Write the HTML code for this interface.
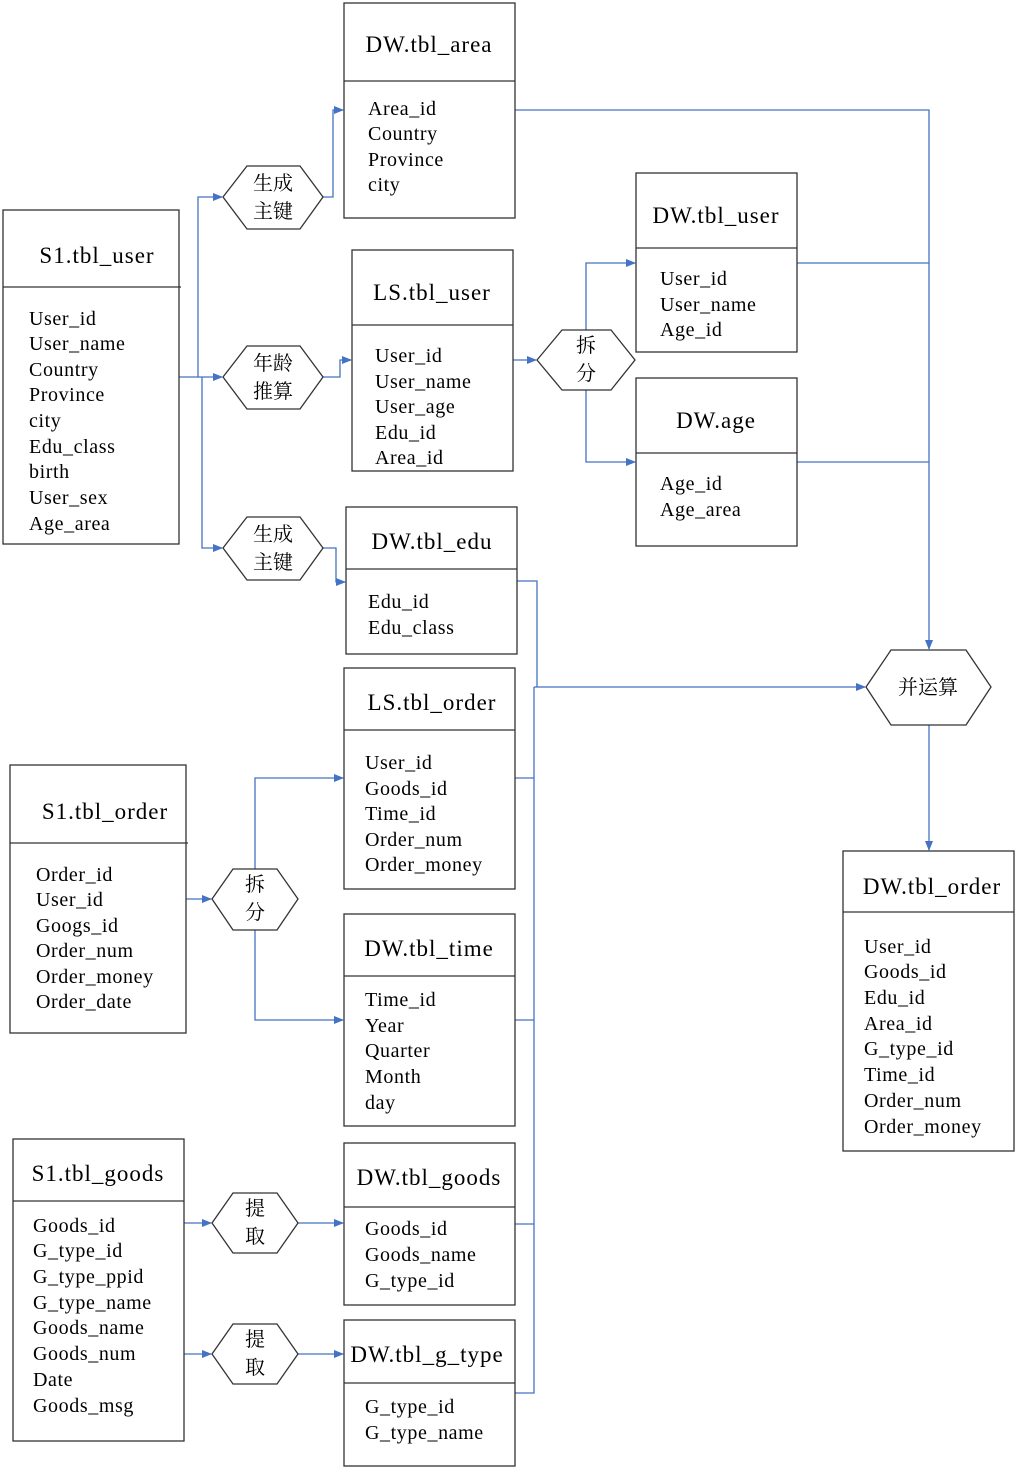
<!DOCTYPE html>
<html><head><meta charset="utf-8"><style>
html,body{margin:0;padding:0;background:#fff;}
svg{display:block;}
text{font-family:"Liberation Serif","Noto Serif CJK SC",serif;fill:#000;}
.t{font-size:23px;letter-spacing:1px;}
.f{font-size:20px;letter-spacing:0.6px;}
.c{font-size:20px;fill:#333;}
.b{fill:#fff;stroke:#333;stroke-width:1.3;}
.l{fill:none;stroke:#4472c4;stroke-width:1.3;}
.a{fill:#4472c4;}
</style></head><body>
<svg width="1018" height="1470" viewBox="0 0 1018 1470" xmlns="http://www.w3.org/2000/svg">
<defs><marker id="m" markerWidth="10" markerHeight="8" refX="9" refY="4" orient="auto" markerUnits="userSpaceOnUse"><path d="M0,0 L10,4 L0,8z" class="a"/></marker></defs>

<g class="l">
<path d="M179,377 H198 V197 H222" marker-end="url(#m)"/>
<path d="M198,377 H222" marker-end="url(#m)"/>
<path d="M202,377 V548 H222" marker-end="url(#m)"/>
<path d="M323,197 H333 V110 H343" marker-end="url(#m)"/>
<path d="M323,377 H340 V360 H351" marker-end="url(#m)"/>
<path d="M323,548 H336 V582 H345" marker-end="url(#m)"/>
<path d="M513,360 H536" marker-end="url(#m)"/>
<path d="M586,330 V263 H635" marker-end="url(#m)"/>
<path d="M586,390 V462 H635" marker-end="url(#m)"/>
<path d="M515,110 H929 V649" marker-end="url(#m)"/>
<path d="M797,263 H929"/>
<path d="M797,462 H929"/>
<path d="M517,581 H537 V687"/>
<path d="M534,687 H865" marker-end="url(#m)"/>
<path d="M534,687 V1393 H515"/>
<path d="M515,778 H534 M515,1020 H534 M515,1224 H534"/>
<path d="M929,725 V850" marker-end="url(#m)"/>
<path d="M186,899 H211" marker-end="url(#m)"/>
<path d="M255,869 V778 H343" marker-end="url(#m)"/>
<path d="M255,930 V1020 H343" marker-end="url(#m)"/>
<path d="M184,1223 H211" marker-end="url(#m)"/>
<path d="M298,1223 H343" marker-end="url(#m)"/>
<path d="M184,1354 H211" marker-end="url(#m)"/>
<path d="M298,1354 H343" marker-end="url(#m)"/>
</g>

<g class="b">
<polygon points="223,197 247,166 300,166 323,197 300,229 247,229"/>
<polygon points="223,377 247,346 300,346 323,377 300,409 247,409"/>
<polygon points="223,548 247,517 300,517 323,548 300,580 247,580"/>
<polygon points="537,360 562,330 611,330 635,360 611,390 562,390"/>
<polygon points="866,687 891,650 966,650 991,687 966,725 891,725"/>
<polygon points="212,899 233,869 277,869 298,899 277,930 233,930"/>
<polygon points="212,1223 233,1193 277,1193 298,1223 277,1253 233,1253"/>
<polygon points="212,1354 233,1324 277,1324 298,1354 277,1384 233,1384"/>
</g>
<g class="c" text-anchor="middle">
<text x="273" y="190">生成</text><text x="273" y="218">主键</text>
<text x="273" y="370">年龄</text><text x="273" y="398">推算</text>
<text x="273" y="541">生成</text><text x="273" y="569">主键</text>
<text x="586" y="352">拆</text><text x="586" y="380">分</text>
<text x="928" y="694">并运算</text>
<text x="255" y="891">拆</text><text x="255" y="919">分</text>
<text x="255" y="1215">提</text><text x="255" y="1243">取</text>
<text x="255" y="1346">提</text><text x="255" y="1374">取</text>
</g>

<g class="b">
<rect x="344" y="3" width="171" height="215"/><line x1="344" y1="81" x2="515" y2="81"/>
<rect x="3" y="210" width="176" height="334"/><line x1="3" y1="287" x2="181" y2="287"/>
<rect x="352" y="250" width="161" height="221"/><line x1="352" y1="325" x2="513" y2="325"/>
<rect x="636" y="173" width="161" height="179"/><line x1="636" y1="248" x2="797" y2="248"/>
<rect x="636" y="378" width="161" height="168"/><line x1="636" y1="453" x2="797" y2="453"/>
<rect x="346" y="507" width="171" height="147"/><line x1="346" y1="569" x2="517" y2="569"/>
<rect x="344" y="668" width="171" height="221"/><line x1="344" y1="730" x2="515" y2="730"/>
<rect x="10" y="765" width="176" height="268"/><line x1="10" y1="843" x2="188" y2="843"/>
<rect x="344" y="914" width="171" height="212"/><line x1="344" y1="976" x2="515" y2="976"/>
<rect x="13" y="1139" width="171" height="302"/><line x1="13" y1="1201" x2="184" y2="1201"/>
<rect x="344" y="1143" width="171" height="162"/><line x1="344" y1="1207" x2="515" y2="1207"/>
<rect x="344" y="1320" width="171" height="146"/><line x1="344" y1="1383" x2="515" y2="1383"/>
<rect x="843" y="851" width="171" height="300"/><line x1="843" y1="912" x2="1014" y2="912"/>
</g>

<g class="t" text-anchor="middle">
<text x="429" y="52">DW.tbl_area</text>
<text x="97" y="263">S1.tbl_user</text>
<text x="432" y="300">LS.tbl_user</text>
<text x="716" y="223">DW.tbl_user</text>
<text x="716" y="428">DW.age</text>
<text x="432" y="549">DW.tbl_edu</text>
<text x="432" y="710">LS.tbl_order</text>
<text x="105" y="819">S1.tbl_order</text>
<text x="429" y="956">DW.tbl_time</text>
<text x="98" y="1181">S1.tbl_goods</text>
<text x="429" y="1185">DW.tbl_goods</text>
<text x="427" y="1362">DW.tbl_g_type</text>
<text x="932" y="894">DW.tbl_order</text>
</g>

<g class="f">
<text x="368" y="115">Area_id</text><text x="368" y="140">Country</text><text x="368" y="166">Province</text><text x="368" y="191">city</text>

<text x="29" y="325">User_id</text><text x="29" y="350">User_name</text><text x="29" y="376">Country</text><text x="29" y="401">Province</text><text x="29" y="427">city</text><text x="29" y="453">Edu_class</text><text x="29" y="478">birth</text><text x="29" y="504">User_sex</text><text x="29" y="530">Age_area</text>

<text x="375" y="362">User_id</text><text x="375" y="388">User_name</text><text x="375" y="413">User_age</text><text x="375" y="439">Edu_id</text><text x="375" y="464">Area_id</text>

<text x="660" y="285">User_id</text><text x="660" y="311">User_name</text><text x="660" y="336">Age_id</text>

<text x="660" y="490">Age_id</text><text x="660" y="516">Age_area</text>

<text x="368" y="608">Edu_id</text><text x="368" y="634">Edu_class</text>

<text x="365" y="769">User_id</text><text x="365" y="795">Goods_id</text><text x="365" y="820">Time_id</text><text x="365" y="846">Order_num</text><text x="365" y="871">Order_money</text>

<text x="36" y="881">Order_id</text><text x="36" y="906">User_id</text><text x="36" y="932">Googs_id</text><text x="36" y="957">Order_num</text><text x="36" y="983">Order_money</text><text x="36" y="1008">Order_date</text>

<text x="365" y="1006">Time_id</text><text x="365" y="1032">Year</text><text x="365" y="1057">Quarter</text><text x="365" y="1083">Month</text><text x="365" y="1109">day</text>

<text x="33" y="1232">Goods_id</text><text x="33" y="1257">G_type_id</text><text x="33" y="1283">G_type_ppid</text><text x="33" y="1309">G_type_name</text><text x="33" y="1334">Goods_name</text><text x="33" y="1360">Goods_num</text><text x="33" y="1386">Date</text><text x="33" y="1412">Goods_msg</text>

<text x="365" y="1235">Goods_id</text><text x="365" y="1261">Goods_name</text><text x="365" y="1287">G_type_id</text>

<text x="365" y="1413">G_type_id</text><text x="365" y="1439">G_type_name</text>

<text x="864" y="953">User_id</text><text x="864" y="978">Goods_id</text><text x="864" y="1004">Edu_id</text><text x="864" y="1030">Area_id</text><text x="864" y="1055">G_type_id</text><text x="864" y="1081">Time_id</text><text x="864" y="1107">Order_num</text><text x="864" y="1133">Order_money</text>
</g>
</svg>
</body></html>
